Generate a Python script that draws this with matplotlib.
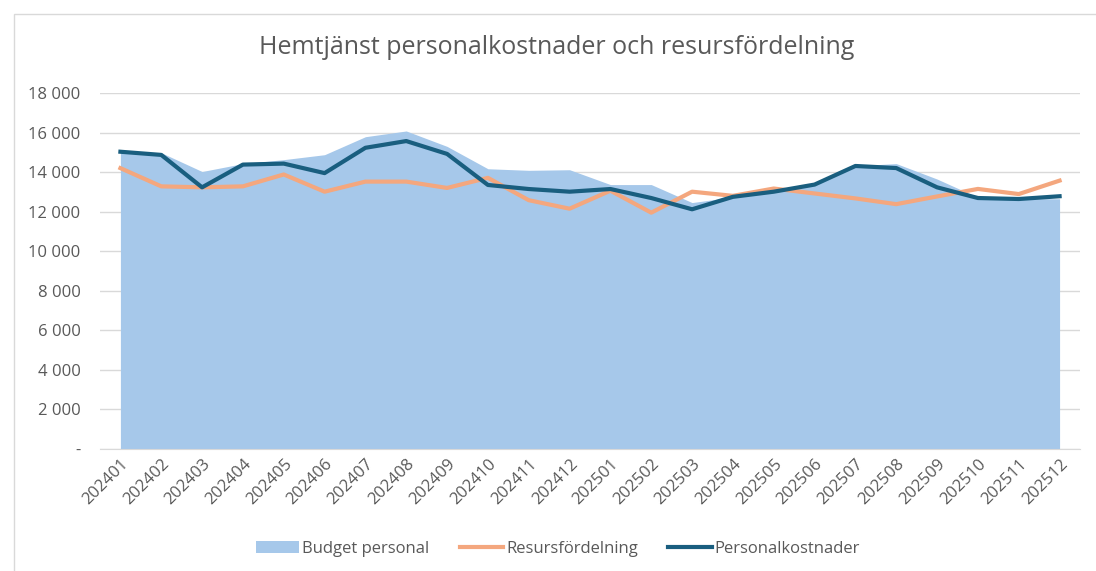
import matplotlib
matplotlib.use("Agg")
import matplotlib.pyplot as plt
from matplotlib.patches import Rectangle
from matplotlib.ticker import FuncFormatter

# Data
manader = ["202401", "202402", "202403", "202404", "202405", "202406", "202407", "202408",
           "202409", "202410", "202411", "202412", "202501", "202502", "202503", "202504",
           "202505", "202506", "202507", "202508", "202509", "202510", "202511", "202512"]
budget = [15000, 14980, 14030, 14430, 14630, 14880, 15790, 16080,
          15300, 14170, 14090, 14120, 13370, 13370, 12460, 12740,
          13020, 13360, 14320, 14430, 13650, 12720, 12660, 12650]
resurs = [14200, 13280, 13230, 13280, 13880, 13010, 13520, 13520,
          13200, 13710, 12580, 12150, 13060, 11950, 13010, 12800,
          13170, 12920, 12670, 12380, 12770, 13150, 12890, 13570]
personal = [15030, 14870, 13230, 14380, 14430, 13950, 15230, 15570,
            14920, 13350, 13145, 13010, 13145, 12690, 12120, 12750,
            13010, 13370, 14310, 14205, 13230, 12690, 12640, 12780]

plt.rcParams['font.family'] = ['Open Sans', 'DejaVu Sans']

fig = plt.figure(figsize=(10.96, 5.71), dpi=100)
ax = fig.add_axes([100/1096, 122/571, 980/1096, 356/571])

x = range(len(manader))
ax.fill_between(x, budget, 0, color='#A6C8EA', linewidth=0, label='Budget personal')
ax.plot(x, resurs, color='#F4A77E', linewidth=3, label='Resursfördelning')
ax.plot(x, personal, color='#195E7F', linewidth=3, label='Personalkostnader')

ax.set_xlim(-0.5, len(manader) - 0.5)
ax.set_ylim(0, 18000)
ax.set_yticks(range(0, 18001, 2000))
ax.yaxis.set_major_formatter(FuncFormatter(
    lambda v, p: '-' if v == 0 else f'{int(v):,}'.replace(',', ' ')))
ax.set_xticks(list(x))
ax.set_xticklabels(manader, rotation=45, ha='right', rotation_mode='anchor')
ax.tick_params(axis='both', colors='#595959', labelsize=12, length=0)
ax.tick_params(axis='x', pad=5)
ax.tick_params(axis='y', pad=14)
ax.grid(axis='y', color='#D9D9D9', linewidth=1)
ax.set_axisbelow(True)
for s in ['top', 'right', 'left']:
    ax.spines[s].set_visible(False)
ax.spines['bottom'].set_color('#D9D9D9')

fig.text(557/1096, 1 - 47/571, 'Hemtjänst personalkostnader och resursfördelning',
         ha='center', va='center', fontsize=18, color='#595959')

fig.legend(loc='center', bbox_to_anchor=(558/1096, 1 - 549/571), ncol=3, frameon=False,
           fontsize=12, labelcolor='#595959', handlelength=2.6, handletextpad=0.2,
           columnspacing=1.8)

fig.patches.append(Rectangle((14/1096, -0.1), 1.2, 1.1 - 14/571, transform=fig.transFigure,
                             fill=False, edgecolor='#D9D9D9', linewidth=1))

fig.savefig('out.png', dpi=100)
